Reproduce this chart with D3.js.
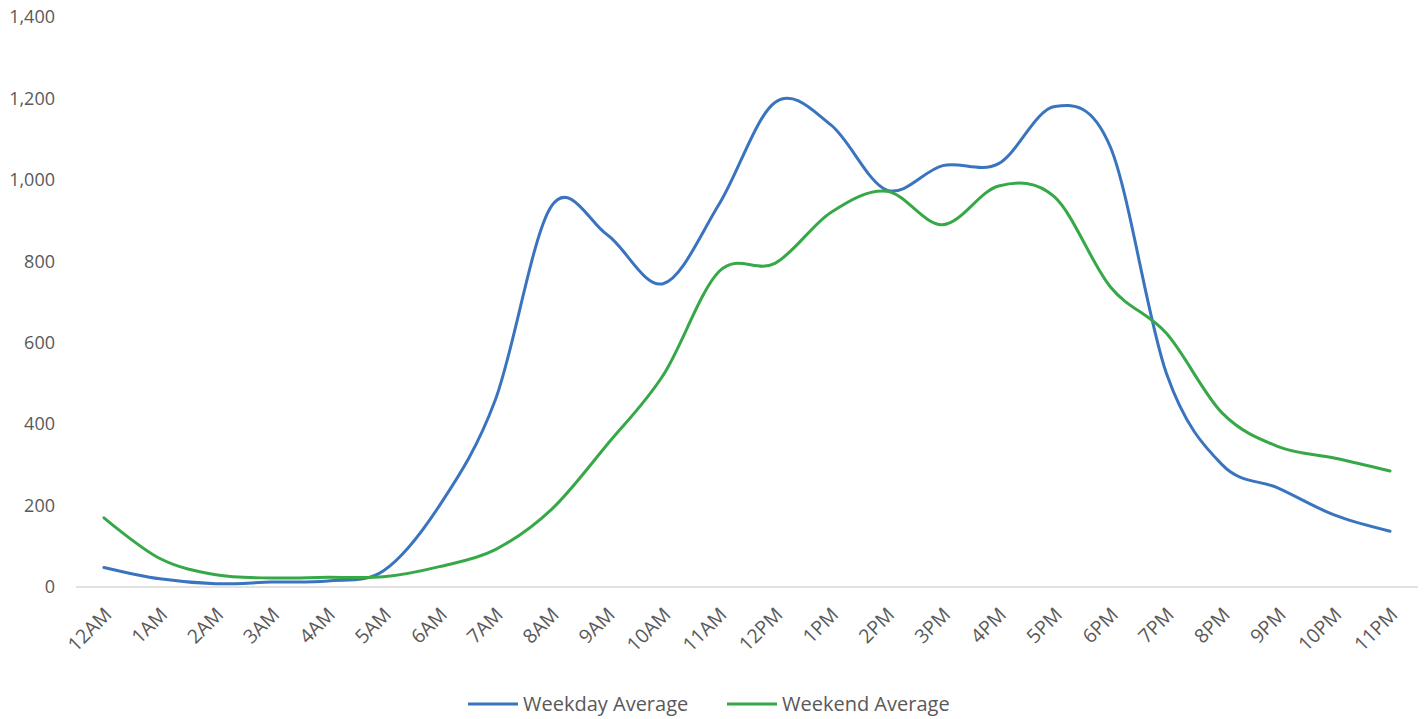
<!DOCTYPE html>
<html>
<head>
<meta charset="utf-8">
<script src="https://cdn.jsdelivr.net/npm/d3@7"></script>
<style>
  body { margin: 0; background: #fff; }
  text { font-family: "Open Sans", sans-serif; fill: #595959; }
</style>
</head>
<body>
<svg width="1424" height="719"></svg>
<script>
const hours = ["12AM","1AM","2AM","3AM","4AM","5AM","6AM","7AM","8AM","9AM","10AM","11AM",
               "12PM","1PM","2PM","3PM","4PM","5PM","6PM","7PM","8PM","9PM","10PM","11PM"];
const weekday = [48, 20, 8, 12, 15, 40, 200, 460, 935, 865, 745, 940,
                 1190, 1135, 975, 1035, 1040, 1180, 1080, 525, 300, 243, 177, 137];
const weekend = [170, 70, 30, 22, 24, 25, 50, 92, 190, 350, 520, 775,
                 795, 920, 972, 890, 985, 958, 737, 623, 427, 345, 317, 285];
const yTicks = [0, 200, 400, 600, 800, 1000, 1200, 1400];

const svg = d3.select("svg");
const plotLeft = 76, plotRight = 1418, plotTop = 17, plotBottom = 587;

const x = d3.scalePoint().domain(hours).range([plotLeft, plotRight]).padding(0.5);
const y = d3.scaleLinear().domain([0, 1400]).range([plotBottom, plotTop]);

// y labels
svg.append("g")
    .selectAll("text")
    .data(yTicks)
    .join("text")
    .attr("x", 55)
    .attr("y", d => y(d))
    .attr("dy", "0.35em")
    .attr("text-anchor", "end")
    .style("font-size", "18px")
    .text(d => d3.format(",")(d));

// x axis line
svg.append("line")
    .attr("x1", plotLeft).attr("x2", plotRight)
    .attr("y1", plotBottom).attr("y2", plotBottom)
    .attr("stroke", "#d9d9d9").attr("stroke-width", 1.5);

// x labels rotated
svg.append("g")
    .selectAll("text")
    .data(hours)
    .join("text")
    .attr("text-anchor", "end")
    .attr("transform", d => `translate(${x(d) + 4},${plotBottom + 24}) rotate(-45)`)
    .attr("dy", "0.35em")
    .style("font-size", "19.5px")
    .text(d => d);

const line = d3.line()
    .x((d, i) => x(hours[i]))
    .y(d => y(d))
    .curve(d3.curveCardinal);

const series = [
    { name: "Weekday Average", values: weekday, color: "#3a74bf" },
    { name: "Weekend Average", values: weekend, color: "#37a847" }
];

svg.append("g")
    .selectAll("path")
    .data(series)
    .join("path")
    .attr("d", d => line(d.values))
    .attr("fill", "none")
    .attr("stroke", d => d.color)
    .attr("stroke-width", 3)
    .attr("stroke-linecap", "round");

// legend
const legend = svg.append("g").attr("transform", "translate(468, 704)");
const items = legend.selectAll("g")
    .data(series)
    .join("g")
    .attr("transform", (d, i) => `translate(${i * 259}, 0)`);
items.append("line")
    .attr("x1", 0).attr("x2", 50)
    .attr("stroke", d => d.color).attr("stroke-width", 3);
items.append("text")
    .attr("x", 55)
    .attr("dy", "0.35em")
    .style("font-size", "20px")
    .text(d => d.name);
</script>
</body>
</html>
